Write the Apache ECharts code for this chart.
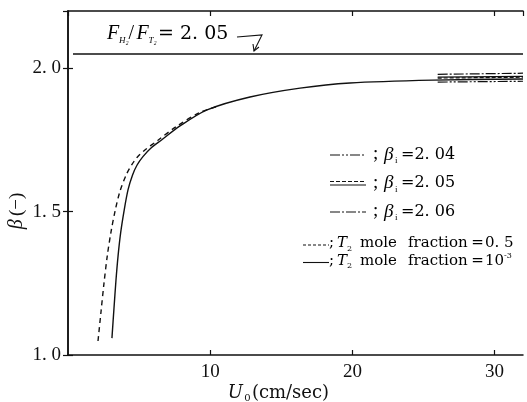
<!DOCTYPE html>
<html>
<head>
<meta charset="utf-8">
<script src="https://cdn.jsdelivr.net/npm/echarts@6/dist/echarts.min.js"></script>
<style>
  html, body { margin: 0; padding: 0; background: #fff; }
  #chart { width: 527px; height: 402px; }
</style>
</head>
<body>
<div id="chart"></div>
<script>
// Separation factor beta against superficial velocity U0

// axis setup
const xMin = 0, xMax = 32, xStep = 10;
const yMin = 1.0, yMax = 2.2, yStep = 0.5;

// T2 mole fraction = 1e-3 (solid curve)
const uLowFrac = [3.09, 3.23, 3.37, 3.52, 3.70, 3.94, 4.22, 4.54, 4.85, 5.27, 5.84, 6.58, 7.88, 9.78, 12.8, 16.32, 19.83, 25.67, 32];
const betaLowFrac = [1.059, 1.160, 1.258, 1.345, 1.425, 1.502, 1.576, 1.628, 1.662, 1.692, 1.722, 1.750, 1.799, 1.855, 1.900, 1.931, 1.949, 1.959, 1.963];

// T2 mole fraction = 0.5 (dashed curve)
const uHalfFrac = [2.11, 2.32, 2.53, 2.76, 3.02, 3.31, 3.66, 4.13, 4.50, 4.87, 5.41, 6.35, 7.59, 9.28, 10.6];
const betaHalfFrac = [1.049, 1.150, 1.250, 1.345, 1.428, 1.502, 1.572, 1.632, 1.665, 1.690, 1.715, 1.750, 1.796, 1.846, 1.868];

// flow ratio F_H2 / F_T2
const fRatio = 2.05;
const fLineU = [0.35, 32];

// high-velocity branches for the three beta_i values
const branchU = [26, 32];
const branch204 = [1.952, 1.955];
const branch205a = [1.969, 1.972];
const branch205b = [1.966, 1.969];
const branch206 = [1.979, 1.983];

const pair = (xs, ys) => xs.map((x, i) => [x, ys[i]]);

const SERIF = "'Liberation Serif', 'DejaVu Serif', serif";
const WIDE = "'DejaVu Serif', 'Liberation Serif', serif";
const INK = '#111';

const chart = echarts.init(document.getElementById('chart'), null, { renderer: 'canvas' });

const lineSeries = (name, data, dash, width, smooth) => ({
  name, type: 'line', data, symbol: 'none', smooth: smooth || false,
  silent: true, animation: false,
  lineStyle: { color: INK, width: width || 1.3, type: dash || 'solid' }
});

// rich-text fragment style; an optional width fixes its advance
const frag = (family, size, extra) => Object.assign({
  fontFamily: family, fontSize: size, lineHeight: 22, color: INK
}, extra || {});
const subFrag = (family, size, extra) => frag(family, size,
  Object.assign({ lineHeight: 10, verticalAlign: 'bottom' }, extra || {}));

chart.setOption({
  animation: false,
  backgroundColor: '#fff',
  grid: { left: 68, right: 4, top: 11, bottom: 47, containLabel: false, outerBoundsMode: 'none' },
  xAxis: [
    {
      type: 'value', min: xMin, max: xMax, interval: xStep, position: 'bottom',
      name: '{u|U}{s|0}{n|(cm/sec)}', nameLocation: 'middle', nameGap: 28,
      nameMoveOverlap: false,
      nameTextStyle: {
        padding: [0, 34, 0, 0],
        rich: {
          u: frag(WIDE, 18, { fontStyle: 'italic', lineHeight: 20, width: 15 }),
          s: subFrag(WIDE, 10, { width: 9 }),
          n: frag(WIDE, 18, { lineHeight: 20 })
        }
      },
      axisLine: { lineStyle: { color: INK, width: 1.5 } },
      axisTick: { inside: true, length: 5, lineStyle: { color: INK, width: 1.2 } },
      axisLabel: {
        fontFamily: SERIF, fontSize: 19, color: INK, margin: 8,
        showMinLabel: false, showMaxLabel: false,
        formatter: v => (v === 0 ? '' : String(v))
      },
      splitLine: { show: false }
    },
    {
      type: 'value', min: xMin, max: xMax, interval: xStep, position: 'top',
      axisLine: { lineStyle: { color: INK, width: 1.5 } },
      axisTick: { inside: true, length: 5, lineStyle: { color: INK, width: 1.2 } },
      axisLabel: { show: false }, splitLine: { show: false }
    }
  ],
  yAxis: [
    {
      type: 'value', min: yMin, max: yMax, interval: yStep, position: 'left',
      name: '{b|β} {n|(−)}', nameLocation: 'middle', nameGap: 40, nameRotate: 90,
      nameMoveOverlap: false,
      nameTextStyle: {
        padding: [0, 56, 0, 0],
        rich: {
          b: frag(SERIF, 20, { fontStyle: 'italic' }),
          n: frag(SERIF, 19)
        }
      },
      axisLine: { lineStyle: { color: INK, width: 1.5 } },
      axisTick: { inside: true, length: 5, lineStyle: { color: INK, width: 1.2 } },
      axisLabel: {
        fontFamily: SERIF, fontSize: 19, color: INK, margin: 7,
        showMaxLabel: false,
        formatter: v => v.toFixed(1).replace('.', '. ')
      },
      splitLine: { show: false }
    },
    {
      type: 'value', min: yMin, max: yMax, interval: yStep, position: 'right',
      axisLine: { lineStyle: { color: INK, width: 1.5 } },
      axisTick: { inside: true, length: 5, lineStyle: { color: INK, width: 1.2 } },
      axisLabel: { show: false }, splitLine: { show: false }
    }
  ],
  series: [
    lineSeries('T2 1e-3', pair(uLowFrac, betaLowFrac), 'solid', 1.4, 0.3),
    lineSeries('T2 0.5', pair(uHalfFrac, betaHalfFrac), [5, 4], 1.4, 0.3),
    lineSeries('F ratio', pair(fLineU, fLineU.map(() => fRatio)), 'solid', 1.3),
    lineSeries('beta_i 2.04', pair(branchU, branch204), [10, 2, 2, 2, 2, 2], 1.2),
    lineSeries('beta_i 2.05 a', pair(branchU, branch205a), 'solid', 1.2),
    lineSeries('beta_i 2.05 b', pair(branchU, branch205b), [4, 2], 1.2),
    lineSeries('beta_i 2.06', pair(branchU, branch206), [10, 2, 2, 2], 1.2)
  ],
  graphic: [
    // F_H2 / F_T2 annotation with pointer
    {
      type: 'text', left: 107, top: 24, silent: true,
      style: {
        text: '{f|F}{s|H₂}{n|/}{f|F}{s|T₂}{m|= 2. 05}',
        rich: {
          f: frag(SERIF, 20, { fontStyle: 'italic', width: 12 }),
          s: subFrag(SERIF, 9, { fontStyle: 'italic', width: 9.5 }),
          n: frag(SERIF, 20, { width: 8 }),
          m: frag(WIDE, 19)
        }
      }
    },
    {
      type: 'polyline', silent: true,
      shape: { points: [[237, 37], [262, 35], [254, 51]] },
      style: { stroke: INK, lineWidth: 1.1, fill: null }
    },
    {
      type: 'polyline', silent: true,
      shape: { points: [[253, 44], [254, 51], [259, 47]] },
      style: { stroke: INK, lineWidth: 1.1, fill: null }
    },
    // legend: beta_i rows
    { type: 'line', silent: true, shape: { x1: 330, y1: 155, x2: 366, y2: 155 },
      style: { stroke: INK, lineWidth: 1.1, lineDash: [10, 2, 2, 2, 2, 2] } },
    { type: 'line', silent: true, shape: { x1: 330, y1: 181.5, x2: 366, y2: 181.5 },
      style: { stroke: INK, lineWidth: 1.1, lineDash: [4, 2] } },
    { type: 'line', silent: true, shape: { x1: 330, y1: 185, x2: 366, y2: 185 },
      style: { stroke: INK, lineWidth: 1.1 } },
    { type: 'line', silent: true, shape: { x1: 330, y1: 212, x2: 366, y2: 212 },
      style: { stroke: INK, lineWidth: 1.1, lineDash: [10, 2, 2, 2] } },
    {
      type: 'group', left: 373, top: 145, silent: true,
      children: ['2. 04', '2. 05', '2. 06'].map((v, i) => ({
        type: 'text', x: 0, y: i * 28.5,
        style: {
          text: '{c|;}{b|β}{s|i}{m|=' + v + '}',
          rich: {
            c: frag(SERIF, 19, { width: 11 }),
            b: frag(SERIF, 19, { fontStyle: 'italic', width: 11 }),
            s: subFrag(SERIF, 9, { width: 6 }),
            m: frag(WIDE, 16)
          }
        }
      }))
    },
    // legend: T2 mole fraction rows
    { type: 'line', silent: true, shape: { x1: 303, y1: 245, x2: 329, y2: 245 },
      style: { stroke: INK, lineWidth: 1.1, lineDash: [3, 2] } },
    { type: 'line', silent: true, shape: { x1: 303, y1: 262.5, x2: 329, y2: 262.5 },
      style: { stroke: INK, lineWidth: 1.1 } },
    {
      type: 'group', left: 329, top: 236, silent: true,
      children: [
        '{c|;}{t|T}{s|2}{w|mole}{x|fraction}{e|=}{n|0. 5}',
        '{c|;}{t|T}{s|2}{w|mole}{x|fraction}{e|=}{n|10}{p|-3}'
      ].map((t, i) => ({
        type: 'text', x: 0, y: i * 17.5,
        style: {
          text: t,
          rich: {
            c: frag(WIDE, 15, { lineHeight: 18, width: 8 }),
            t: frag(WIDE, 15, { lineHeight: 18, fontStyle: 'italic', width: 10 }),
            s: subFrag(WIDE, 8, { lineHeight: 9, width: 13 }),
            w: frag(WIDE, 15, { lineHeight: 18, width: 48 }),
            x: frag(WIDE, 15, { lineHeight: 18, width: 62 }),
            e: frag(WIDE, 15, { lineHeight: 18, width: 15, align: 'center' }),
            n: frag(WIDE, 15, { lineHeight: 18 }),
            p: frag(WIDE, 8, { lineHeight: 9, verticalAlign: 'top' })
          }
        }
      }))
    }
  ]
});
</script>
</body>
</html>
